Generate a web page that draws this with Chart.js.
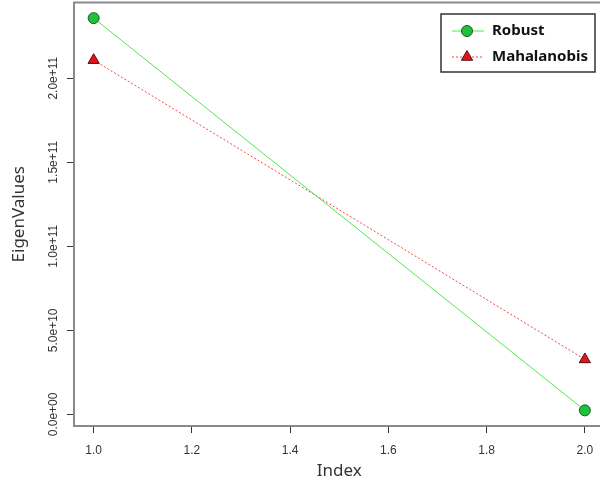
<!DOCTYPE html>
<html>
<head>
<meta charset="utf-8">
<script src="https://cdn.jsdelivr.net/npm/chart.js@4.4.7/dist/chart.umd.min.js"></script>
<style>
*{margin:0;padding:0}
html,body{width:600px;height:484px;overflow:hidden;background:#fff}
#wrap{width:612px;height:489px;margin-top:-5px}
</style>
</head>
<body>
<div id="wrap"><canvas id="c" width="612" height="489"></canvas></div>
<script>
// values
const indexVals = [1, 2];
const robust = [2.357e11, 2.4e9];
const mahalanobis = [2.107e11, 3.27e10];
const xTicks = [1.0, 1.2, 1.4, 1.6, 1.8, 2.0];
const yTicks = [0, 5e10, 1e11, 1.5e11, 2e11];
const yTickLabels = ['0.0e+00', '5.0e+10', '1.0e+11', '1.5e+11', '2.0e+11'];
const seriesNames = ['Robust', 'Mahalanobis'];

const axisGrey = '#8a8a8a';
const tickFont = { family: 'Liberation Sans, Arial, sans-serif', size: 12 };

// y tick labels are vertical in the original, so they are drawn rotated here
// also draws the top frame line (the right side is cut off in the original)
const yLabelPlugin = {
  id: 'yLabels',
  afterDraw(chart) {
    const ctx = chart.ctx, y = chart.scales.y, a = chart.chartArea;
    ctx.save();
    ctx.strokeStyle = axisGrey;
    ctx.lineWidth = 2;
    ctx.beginPath();
    ctx.moveTo(a.left - 1, a.top);
    ctx.lineTo(chart.width, a.top);
    ctx.stroke();
    ctx.fillStyle = '#333';
    ctx.font = tickFont.size + 'px ' + tickFont.family;
    ctx.textAlign = 'center';
    ctx.textBaseline = 'middle';
    yTicks.forEach((v, i) => {
      ctx.save();
      ctx.translate(54, y.getPixelForValue(v));
      ctx.rotate(-Math.PI / 2);
      ctx.fillText(yTickLabels[i], 0, 0);
      ctx.restore();
    });
    ctx.restore();
  }
};

// R style legend box: line + marker + bold name (canvas is shifted up 5px)
const legendPlugin = {
  id: 'rLegend',
  afterDraw(chart) {
    const ctx = chart.ctx;
    const bx = 441, by = 19, bw = 154, bh = 58;
    ctx.save();
    ctx.fillStyle = '#fff';
    ctx.fillRect(bx, by, bw, bh);
    ctx.strokeStyle = '#333';
    ctx.lineWidth = 1.5;
    ctx.strokeRect(bx, by, bw, bh);
    chart.data.datasets.forEach((ds, i) => {
      const cy = by + 17 + i * 26;
      ctx.beginPath();
      ctx.strokeStyle = ds.borderColor;
      ctx.lineWidth = 1;
      ctx.setLineDash(ds.borderDash || []);
      ctx.moveTo(452, cy);
      ctx.lineTo(484, cy);
      ctx.stroke();
      ctx.setLineDash([]);
      ctx.fillStyle = ds.pointBackgroundColor;
      ctx.strokeStyle = ds.pointBorderColor;
      ctx.lineWidth = 1;
      ctx.beginPath();
      const r = ds.pointRadius;
      if (ds.pointStyle === 'circle') {
        ctx.arc(467, cy, r, 0, Math.PI * 2);
      } else {
        ctx.moveTo(467, cy - r);
        ctx.lineTo(467 + r * 0.866, cy + r / 2);
        ctx.lineTo(467 - r * 0.866, cy + r / 2);
        ctx.closePath();
      }
      ctx.fill();
      ctx.stroke();
      ctx.fillStyle = '#111';
      ctx.font = 'bold 15px "Noto Sans", sans-serif';
      ctx.textAlign = 'left';
      ctx.textBaseline = 'middle';
      ctx.fillText(seriesNames[i], 492, cy);
    });
    ctx.restore();
  }
};

new Chart(document.getElementById('c'), {
  type: 'line',
  data: {
    datasets: [
      {
        label: seriesNames[0],
        data: indexVals.map((x, i) => ({ x, y: robust[i] })),
        borderColor: '#4ee84e',
        borderWidth: 1,
        pointStyle: 'circle',
        pointRadius: 5.5,
        pointBackgroundColor: '#1ec13c',
        pointBorderColor: '#1f5a22',
        pointBorderWidth: 1
      },
      {
        label: seriesNames[1],
        data: indexVals.map((x, i) => ({ x, y: mahalanobis[i] })),
        borderColor: '#ff4040',
        borderWidth: 1,
        borderDash: [2, 2],
        pointStyle: 'triangle',
        pointRadius: 6.5,
        pointBackgroundColor: '#e0141e',
        pointBorderColor: '#5a1010',
        pointBorderWidth: 1
      }
    ]
  },
  options: {
    responsive: false,
    animation: false,
    layout: { padding: { right: 0, left: 0, top: 3, bottom: 0 } },
    plugins: { legend: { display: false }, tooltip: { enabled: false } },
    scales: {
      x: {
        type: 'linear',
        min: 0.96,
        max: 2.04,
        afterBuildTicks: s => { s.ticks = xTicks.map(v => ({ value: v })); },
        afterFit: s => { s.height = 58; },
        ticks: {
          color: '#333',
          font: tickFont,
          padding: 10,
          maxRotation: 0,
          callback: v => Number(v).toFixed(1)
        },
        grid: { drawOnChartArea: false, drawTicks: true, tickLength: 7, tickColor: '#333' },
        border: { display: true, color: axisGrey, width: 2 },
        title: {
          display: true,
          text: 'Index',
          color: '#333',
          font: { family: '"Noto Sans", sans-serif', size: 17 },
          padding: { top: 0, bottom: 3 }
        }
      },
      y: {
        min: -6.9e9,
        max: 2.45e11,
        afterBuildTicks: s => { s.ticks = yTicks.map(v => ({ value: v })); },
        afterFit: s => { s.width = 74; },
        ticks: { display: false },
        grid: { drawOnChartArea: false, drawTicks: true, tickLength: 7, tickColor: '#333' },
        border: { display: true, color: axisGrey, width: 2 },
        title: {
          display: true,
          text: 'EigenValues',
          color: '#333',
          font: { family: '"Noto Sans", sans-serif', size: 17 },
          padding: { top: 9, bottom: 0 }
        }
      }
    }
  },
  plugins: [yLabelPlugin, legendPlugin]
});
</script>
</body>
</html>
